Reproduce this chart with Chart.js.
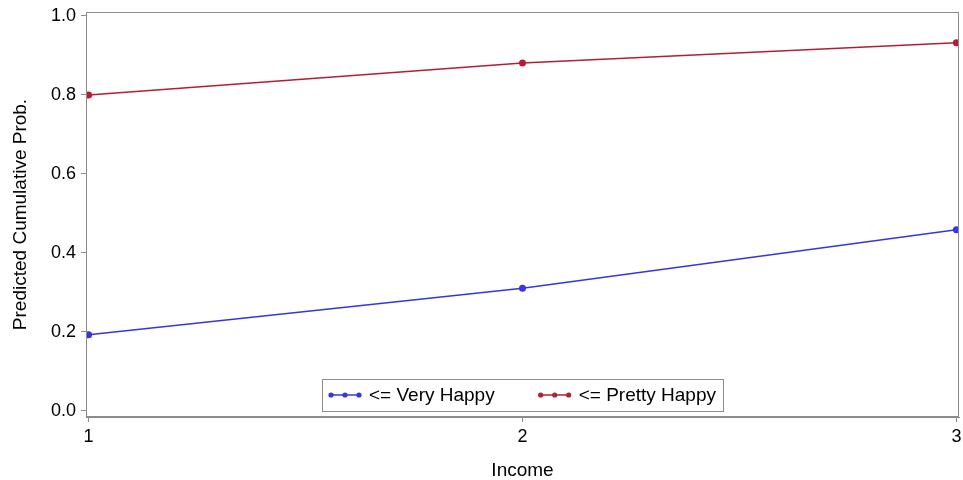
<!DOCTYPE html>
<html>
<head>
<meta charset="utf-8">
<script src="https://cdn.jsdelivr.net/npm/chart.js@4/dist/chart.umd.min.js"></script>
<style>
  html, body { margin: 0; padding: 0; background: #fff; }
  #wrap { width: 963px; height: 480px; }
</style>
</head>
<body>
<div id="wrap"><canvas id="chart" width="963" height="480"></canvas></div>
<script>
// Predicted cumulative probabilities by income level
const incomeLevels = [1, 2, 3];
const veryHappy = [0.193, 0.311, 0.459];
const prettyHappy = [0.800, 0.881, 0.932];
const yTicks = [0.0, 0.2, 0.4, 0.6, 0.8, 1.0];
const xTicks = [1, 2, 3];
const seriesNames = ['<= Very Happy', '<= Pretty Happy'];

const BLUE = '#3535e2';
const RED = '#b21f35';
const AXIS = '#8c8c8c';
const FONT = '"Liberation Sans", Arial, sans-serif';

function toPoints(vals) {
    return incomeLevels.map((x, i) => ({ x: x, y: vals[i] }));
}

// frame around the plot area
const frame = {
    id: 'frame',
    afterDatasetsDraw(chart) {
        const a = chart.chartArea;
        const ctx = chart.ctx;
        ctx.save();
        ctx.strokeStyle = AXIS;
        ctx.lineWidth = 1;
        ctx.strokeRect(a.left + 0.5, a.top + 0.5, a.right - a.left - 1, a.bottom - a.top - 1);
        ctx.restore();
    }
};

// boxed legend sitting inside the bottom of the plot area
const insideLegend = {
    id: 'insideLegend',
    afterDraw(chart) {
        const a = chart.chartArea;
        const ctx = chart.ctx;
        ctx.save();
        ctx.font = '19px ' + FONT;
        const sample = 32, gap = 8, between = 44, padX = 7;
        const items = chart.data.datasets.map(ds => ({
            text: ds.label, color: ds.borderColor, w: ctx.measureText(ds.label).width
        }));
        let total = padX * 2;
        items.forEach((it, i) => { total += sample + gap + it.w + (i ? between : 0); });
        const h = 32;
        const cx = (a.left + a.right) / 2;
        const left = Math.round(cx - total / 2);
        const top = a.bottom - 6 - h;
        ctx.fillStyle = '#fff';
        ctx.fillRect(left, top, total, h);
        ctx.strokeStyle = AXIS;
        ctx.lineWidth = 1;
        ctx.strokeRect(left + 0.5, top + 0.5, total, h);
        let x = left + padX;
        const cy = top + h / 2;
        items.forEach((it, i) => {
            if (i) x += between;
            ctx.strokeStyle = it.color;
            ctx.fillStyle = it.color;
            ctx.lineWidth = 1.5;
            ctx.beginPath();
            ctx.moveTo(x, cy);
            ctx.lineTo(x + sample, cy);
            ctx.stroke();
            [2, 16, 30].forEach(d => {
                ctx.beginPath();
                ctx.arc(x + d, cy, 2.6, 0, Math.PI * 2);
                ctx.fill();
            });
            x += sample + gap;
            ctx.fillStyle = '#000';
            ctx.textBaseline = 'middle';
            ctx.fillText(it.text, x, cy + 1);
            x += it.w;
        });
        ctx.restore();
    }
};

new Chart(document.getElementById('chart'), {
    type: 'line',
    data: {
        datasets: [
            {
                label: seriesNames[0],
                data: toPoints(veryHappy),
                borderColor: BLUE,
                backgroundColor: BLUE,
                borderWidth: 1.5,
                pointRadius: 3.5,
                pointBorderWidth: 0,
                tension: 0
            },
            {
                label: seriesNames[1],
                data: toPoints(prettyHappy),
                borderColor: RED,
                backgroundColor: RED,
                borderWidth: 1.5,
                pointRadius: 3.5,
                pointBorderWidth: 0,
                tension: 0
            }
        ]
    },
    options: {
        responsive: false,
        animation: false,
        layout: { padding: { top: 12, right: 4, left: 0, bottom: 0 } },
        plugins: {
            legend: { display: false },
            tooltip: { enabled: false }
        },
        scales: {
            x: {
                type: 'linear',
                min: 0.994,
                max: 3.006,
                afterBuildTicks: s => { s.ticks = xTicks.map(v => ({ value: v })); },
                afterFit: s => { s.height = 63; s.paddingLeft = 0; s.paddingRight = 0; },
                grid: { drawOnChartArea: false, drawTicks: true, tickLength: 5, color: AXIS },
                border: { color: AXIS },
                ticks: {
                    color: '#000',
                    font: { family: FONT, size: 18 },
                    padding: 4,
                    maxRotation: 0,
                    callback: v => String(v)
                },
                title: {
                    display: true,
                    text: 'Income',
                    color: '#000',
                    font: { family: FONT, size: 19, lineHeight: 1 },
                    padding: { top: 0, bottom: 0 }
                }
            },
            y: {
                min: -0.0152,
                max: 1.0101,
                afterBuildTicks: s => { s.ticks = yTicks.map(v => ({ value: v })); },
                afterFit: s => { s.width = 86; s.paddingTop = 0; s.paddingBottom = 0; },
                grid: { drawOnChartArea: false, drawTicks: true, tickLength: 5, color: AXIS },
                border: { color: AXIS },
                ticks: {
                    color: '#000',
                    font: { family: FONT, size: 18 },
                    padding: 5,
                    callback: v => v.toFixed(1)
                },
                title: {
                    display: true,
                    text: 'Predicted Cumulative Prob.',
                    color: '#000',
                    font: { family: FONT, size: 19, lineHeight: 1 },
                    padding: { top: 11, bottom: 0 }
                }
            }
        }
    },
    plugins: [frame, insideLegend]
});
</script>
</body>
</html>
